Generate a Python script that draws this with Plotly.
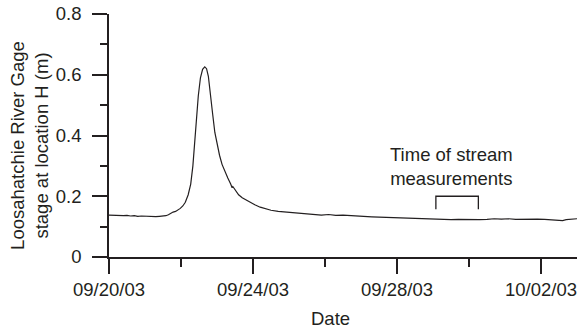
import pandas as pd
import plotly.graph_objects as go

# Days elapsed since 09/20/03 00:00 and gage stage (m)
day_offsets = [0.00, 0.10, 0.20, 0.30, 0.40, 0.50, 0.60, 0.70, 0.80, 0.90, 1.00, 1.10, 1.20, 1.30,
               1.40, 1.50, 1.58, 1.65, 1.72, 1.78, 1.85, 1.92, 1.98, 2.05, 2.12, 2.20, 2.27, 2.33,
               2.38, 2.43, 2.48, 2.54, 2.60, 2.66, 2.71, 2.76, 2.82, 2.88, 2.94, 3.00, 3.07, 3.14,
               3.22, 3.30, 3.38, 3.42, 3.44, 3.50, 3.60, 3.70, 3.80, 3.92, 4.05, 4.20, 4.35, 4.50,
               4.70, 4.90, 5.10, 5.30, 5.50, 5.70, 5.90, 6.10, 6.30, 6.50, 6.70, 6.90, 7.10, 7.30,
               7.50, 7.70, 7.90, 8.10, 8.30, 8.50, 8.70, 8.90, 9.10, 9.30, 9.50, 9.70, 9.90, 10.10,
               10.30, 10.50, 10.70, 10.90, 11.10, 11.30, 11.50, 11.70, 11.90, 12.10, 12.30, 12.50,
               12.60, 12.70, 12.90, 13.00]
stage_m = [0.138, 0.137, 0.138, 0.137, 0.136, 0.137, 0.135, 0.136, 0.134, 0.135, 0.134, 0.133, 0.134, 0.133,
           0.134, 0.134, 0.136, 0.139, 0.145, 0.148, 0.150, 0.154, 0.160, 0.168, 0.180, 0.205, 0.240, 0.300,
           0.380, 0.460, 0.530, 0.590, 0.618, 0.626, 0.620, 0.595, 0.540, 0.470, 0.410, 0.370, 0.335, 0.305,
           0.280, 0.260, 0.240, 0.228, 0.232, 0.222, 0.205, 0.195, 0.188, 0.180, 0.172, 0.164, 0.158, 0.154,
           0.150, 0.148, 0.146, 0.143, 0.141, 0.139, 0.138, 0.140, 0.137, 0.138, 0.136, 0.134, 0.133, 0.132,
           0.131, 0.130, 0.130, 0.128, 0.128, 0.127, 0.126, 0.125, 0.123, 0.124, 0.123, 0.124, 0.123, 0.124,
           0.123, 0.124, 0.126, 0.125, 0.126, 0.124, 0.125, 0.126, 0.125, 0.124, 0.123, 0.121,
           0.120, 0.123, 0.124, 0.126]

# Bracket marking time of stream measurements
bracket_days = [9.08, 9.08, 10.26, 10.26]
bracket_vals = [0.157, 0.200, 0.200, 0.157]
note_day = 9.52
note_val = 0.297
note_text = "Time of stream<br>measurements"
y_title = "Loosahatchie River Gage<br>stage at location H (m)"

start = pd.Timestamp("2003-09-20")
times = [start + pd.Timedelta(days=d) for d in day_offsets]
bracket_times = [start + pd.Timedelta(days=d) for d in bracket_days]

ink = "#231f20"
font = dict(family="Liberation Sans, Arial, sans-serif", size=18.5, color=ink)

fig = go.Figure()
fig.add_trace(go.Scatter(x=times, y=stage_m, mode="lines",
                         line=dict(color=ink, width=1.2), showlegend=False))
fig.add_trace(go.Scatter(x=bracket_times, y=bracket_vals, mode="lines",
                         line=dict(color=ink, width=1.3), showlegend=False))
fig.add_annotation(x=start + pd.Timedelta(days=note_day), y=note_val, text=note_text,
                   showarrow=False, font=font, xanchor="center", yanchor="middle")
fig.add_annotation(x=0.474, y=-0.2, xref="paper", yref="paper", yanchor="top",
                   text="Date", showarrow=False, font=font)
fig.add_annotation(x=-0.169, y=0.461, xref="paper", yref="paper", xanchor="center",
                   yanchor="middle", text=y_title, textangle=-90, showarrow=False, font=font)

fig.update_layout(
    width=578, height=328,
    margin=dict(l=109, r=1, t=14, b=71),
    paper_bgcolor="white", plot_bgcolor="white",
    font=font,
    xaxis=dict(
        type="date",
        range=[start, start + pd.Timedelta(days=13)],
        tick0=start, dtick=4 * 86400000, tickformat="%m/%d/%y",
        ticks="outside", ticklen=15, tickwidth=1.5, tickcolor=ink,
        minor=dict(dtick=2 * 86400000, ticks="outside", ticklen=8, tickwidth=1.5, tickcolor=ink),
        showline=True, linecolor=ink, linewidth=1.5,
        showgrid=False, zeroline=False,
        tickfont=font,
    ),
    yaxis=dict(
        range=[0, 0.8], tick0=0, dtick=0.2,
        ticks="outside", ticklen=15, tickwidth=1.5, tickcolor=ink,
        minor=dict(dtick=0.1, ticks="outside", ticklen=7, tickwidth=1.5, tickcolor=ink),
        showline=True, linecolor=ink, linewidth=1.5,
        showgrid=False, zeroline=False,
        tickfont=font, ticklabelstandoff=7,
    ),
)

fig.write_html("out.html")
